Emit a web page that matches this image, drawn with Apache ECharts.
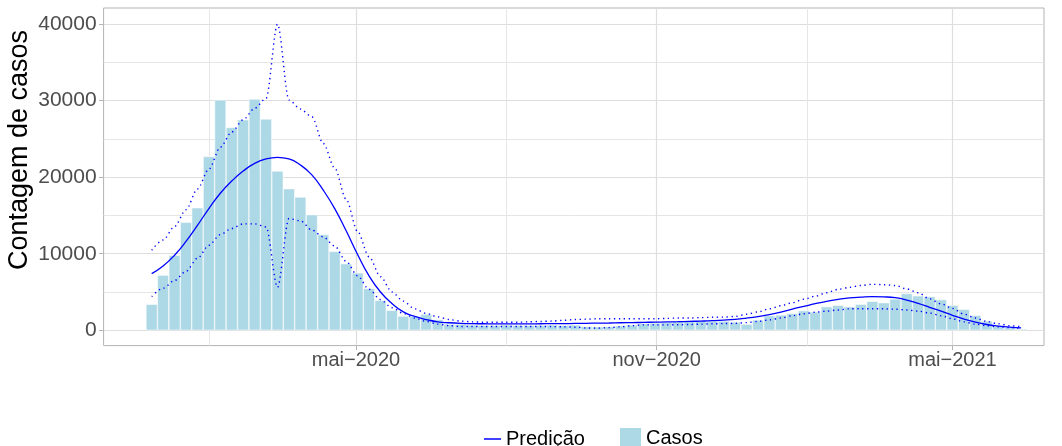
<!DOCTYPE html>
<html>
<head>
<meta charset="utf-8">
<script src="https://cdn.jsdelivr.net/npm/echarts@6/dist/echarts.min.js"></script>
<style>
  html, body { margin: 0; padding: 0; background: #ffffff; }
  #chart { width: 1062px; height: 446px; }
</style>
</head>
<body>
<div id="chart"></div>
<script>
// ---- data (weekly) ----
const dates = [
  '2019-12-28','2020-01-04','2020-01-11','2020-01-18','2020-01-25','2020-02-01','2020-02-08','2020-02-15',
  '2020-02-22','2020-02-29','2020-03-07','2020-03-14','2020-03-21','2020-03-28','2020-04-04','2020-04-11',
  '2020-04-18','2020-04-25','2020-05-02','2020-05-09','2020-05-16','2020-05-23','2020-05-30','2020-06-06',
  '2020-06-13','2020-06-20','2020-06-27','2020-07-04','2020-07-11','2020-07-18','2020-07-25','2020-08-01',
  '2020-08-08','2020-08-15','2020-08-22','2020-08-29','2020-09-05','2020-09-12','2020-09-19','2020-09-26',
  '2020-10-03','2020-10-10','2020-10-17','2020-10-24','2020-10-31','2020-11-07','2020-11-14','2020-11-21',
  '2020-11-28','2020-12-05','2020-12-12','2020-12-19','2020-12-26','2021-01-02','2021-01-09','2021-01-16',
  '2021-01-23','2021-01-30','2021-02-06','2021-02-13','2021-02-20','2021-02-27','2021-03-06','2021-03-13',
  '2021-03-20','2021-03-27','2021-04-03','2021-04-10','2021-04-17','2021-04-24','2021-05-01','2021-05-08',
  '2021-05-15','2021-05-22','2021-05-29','2021-06-05','2021-06-12'
];
const casos = [
  3400, 7200, 9800, 14100, 16000, 22700, 30100, 26500,
  27500, 30200, 27600, 20800, 18500, 17400, 15100, 12500,
  10300, 8700, 7500, 5450, 3900, 2600, 1850, 1800,
  2100, 1400, 800, 800, 700, 650, 650, 700,
  650, 650, 650, 700, 650, 700, 500, 450,
  500, 600, 700, 900, 950, 1050, 1200, 1200,
  1250, 1200, 1200, 1080, 800, 1350, 1900, 2000,
  2200, 2560, 2400, 3080, 3260, 3080, 3400, 3780,
  3600, 4100, 4800, 4500, 4400, 4000, 3260, 2740,
  1950, 1200, 560, 350, 170
];
const predicao = [
  7400, 8400, 9800, 11600, 13700, 15900, 17900, 19500,
  20800, 21800, 22400, 22600, 22400, 21600, 20300, 18300,
  15900, 13000, 9900, 7100, 5000, 3500, 2400, 1800,
  1400, 1100, 980, 900, 860, 850, 840, 840,
  840, 840, 850, 860, 870, 890, 910, 930,
  950, 980, 1000, 1030, 1060, 1090, 1120, 1160,
  1200, 1250, 1320, 1420, 1580, 1780, 2030, 2370,
  2770, 3120, 3470, 3780, 4030, 4230, 4330, 4390,
  4360, 4250, 3950, 3500, 3000, 2500, 1950, 1450,
  1050, 750, 550, 400, 300
];
const inferior = [
  4400, 5500, 6500, 7700, 9400, 11100, 12500, 13300,
  13900, 13900, 13500, 5600, 14600, 14300, 13100, 12200,
  11000, 9000, 7100, 5350, 4000, 2950, 2200, 1600,
  1150, 800, 600, 500, 500, 500, 500, 500,
  500, 500, 500, 480, 450, 400, 300, 280,
  350, 450, 600, 700, 700, 700, 720, 750,
  800, 850, 870, 900, 1000, 1150, 1350, 1600,
  1900, 2150, 2350, 2500, 2650, 2800, 2800, 2800,
  2800, 2750, 2650, 2500, 2250, 1900, 1500, 1100,
  800, 600, 450, 350, 250
];
const superior = [
  10450, 11800, 13550, 15750, 18450, 21050, 23900, 25900,
  27500, 29000, 30300, 40000, 30100, 28900, 27900, 24400,
  21200, 17100, 12900, 9600, 7000, 5000, 3800, 2800,
  2200, 1750, 1400, 1200, 1100, 1050, 1050, 1050,
  1050, 1100, 1150, 1200, 1300, 1400, 1450, 1500,
  1500, 1500, 1500, 1500, 1500, 1550, 1600, 1600,
  1650, 1700, 1720, 1800, 2100, 2400, 2800, 3200,
  3600, 4050, 4450, 4900, 5350, 5600, 5850, 6000,
  5950, 5850, 5400, 4900, 4100, 3450, 2850, 2100,
  1600, 1150, 850, 600, 450
];
const yTicks = [0, 10000, 20000, 30000, 40000];
const yMinorTicks = [5000, 15000, 25000, 35000];
const xTickDates = ['2020-05-01', '2020-11-01', '2021-05-01'];
const xTickLabels = ['mai\u22122020', 'nov\u22122020', 'mai\u22122021'];
const xMinorDates = ['2020-02-01', '2020-08-01', '2021-02-01'];

// ---- chart ----
const t = s => Date.parse(s + 'T00:00:00Z');
const xMin = Date.UTC(2019, 10, 28, 14);
const xMax = Date.UTC(2021, 5, 26);
const yMin = -2005, yMax = 42105;
const xTickTs = xTickDates.map(t);
const xMinorTs = xMinorDates.map(t);
const labelFor = {};
xTickTs.forEach((v, i) => { labelFor[v] = xTickLabels[i]; });

const FONT = 'Liberation Sans, Arial, Helvetica, sans-serif';
const BLUE = '#0000FF';
const pair = arr => dates.map((d, i) => [t(d), arr[i]]);

const chart = echarts.init(document.getElementById('chart'));
chart.setOption({
  animation: false,
  backgroundColor: '#ffffff',
  textStyle: { fontFamily: FONT },
  grid: {
    left: 103.6, right: 18, top: 8, bottom: 100.4,
    containLabel: false, outerBoundsMode: 'none',
    show: true, borderColor: '#B3B3B3', borderWidth: 1, backgroundColor: 'transparent'
  },
  graphic: [
    {
      type: 'text', x: 20, y: 150, rotation: Math.PI / 2,
      style: {
        text: 'Contagem de casos', fontSize: 27, fill: '#000000', fontFamily: FONT,
        align: 'center', verticalAlign: 'middle'
      }
    }
  ],
  legend: [
    {
      data: [{ name: 'Predi\u00e7\u00e3o', icon: 'rect' }],
      left: 479, top: 424, padding: 5,
      itemWidth: 17, itemHeight: 1.5,
      textStyle: { fontSize: 20, color: '#000000', fontFamily: FONT },
      selectedMode: false
    },
    {
      data: [{ name: 'Casos', icon: 'rect' }],
      left: 615, top: 423, padding: 5,
      itemWidth: 21, itemHeight: 21,
      itemStyle: { borderWidth: 0 },
      textStyle: { fontSize: 20, color: '#000000', fontFamily: FONT },
      selectedMode: false
    }
  ],
  xAxis: [
    {
      type: 'value', min: xMin, max: xMax, scale: true,
      axisLine: { show: false, onZero: false },
      axisTick: { show: true, length: 4.5, lineStyle: { color: '#B3B3B3', width: 1 }, customValues: xTickTs },
      axisLabel: {
        customValues: xTickTs, margin: 5, fontSize: 20, color: '#4D4D4D', fontFamily: FONT,
        formatter: v => labelFor[v] || ''
      },
      splitLine: { show: true, lineStyle: { color: '#DEDEDE', width: 1.2 } }
    },
    {
      type: 'value', min: xMin, max: xMax, scale: true, position: 'bottom',
      axisLine: { show: false, onZero: false },
      axisTick: { show: false, customValues: xMinorTs },
      axisLabel: { show: false, customValues: xMinorTs },
      splitLine: { show: true, lineStyle: { color: '#E6E6E6', width: 1 } }
    }
  ],
  yAxis: [
    {
      type: 'value', min: yMin, max: yMax,
      axisLine: { show: false, onZero: false },
      axisTick: { show: true, length: 4.5, lineStyle: { color: '#B3B3B3', width: 1 }, customValues: yTicks },
      axisLabel: {
        customValues: yTicks, margin: 7, fontSize: 21, color: '#4D4D4D', fontFamily: FONT,
        formatter: v => String(v)
      },
      splitLine: { show: true, lineStyle: { color: '#DEDEDE', width: 1.2 } }
    },
    {
      type: 'value', min: yMin, max: yMax, position: 'left',
      axisLine: { show: false, onZero: false },
      axisTick: { show: false, customValues: yMinorTicks },
      axisLabel: { show: false, customValues: yMinorTicks },
      splitLine: { show: true, lineStyle: { color: '#E6E6E6', width: 1 } }
    }
  ],
  series: [
    {
      name: 'Casos', type: 'bar', data: pair(casos),
      barWidth: '100%',
      itemStyle: { color: '#ADD8E6', borderColor: '#ffffff', borderWidth: 0.5 },
      z: 2
    },
    {
      name: 'Limite inferior', type: 'line', data: pair(inferior),
      symbol: 'none', smooth: 0.3, smoothMonotone: 'x',
      lineStyle: { color: BLUE, width: 1.4, type: [1.3, 3.6] }, z: 3
    },
    {
      name: 'Limite superior', type: 'line', data: pair(superior),
      symbol: 'none', smooth: 0.3, smoothMonotone: 'x',
      lineStyle: { color: BLUE, width: 1.4, type: [1.3, 3.6] }, z: 3
    },
    {
      name: 'Predi\u00e7\u00e3o', type: 'line', data: pair(predicao),
      symbol: 'none', smooth: 0.5,
      itemStyle: { color: BLUE },
      lineStyle: { color: BLUE, width: 1.3 }, z: 4
    }
  ]
});
</script>
</body>
</html>
